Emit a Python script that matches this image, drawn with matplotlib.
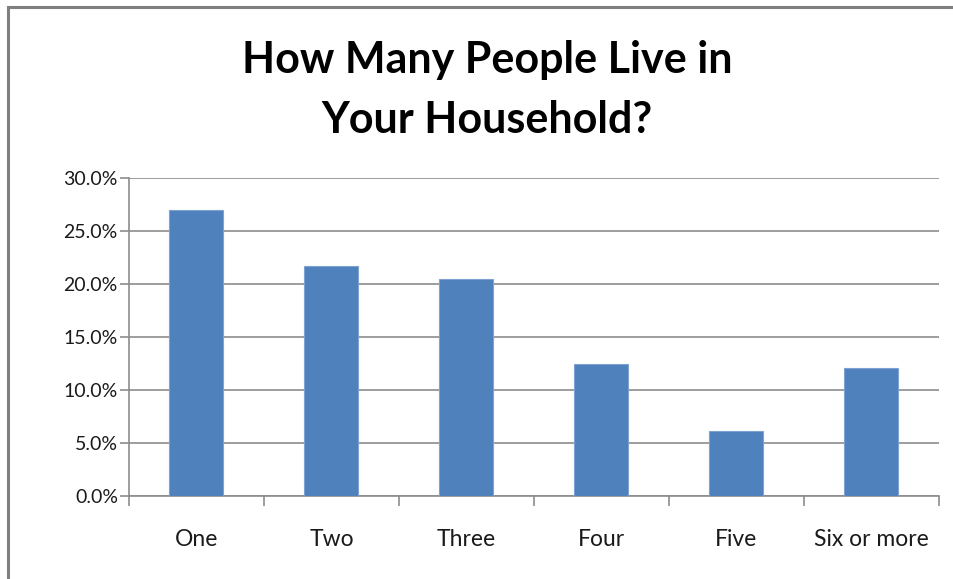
import numpy as np
import matplotlib
matplotlib.use("Agg")
import matplotlib.pyplot as plt
from matplotlib.ticker import FuncFormatter, MultipleLocator
from matplotlib.patches import Rectangle

# ── Data ──────────────────────────────────────────────────────────────────────
categories = ["One", "Two", "Three", "Four", "Five", "Six or more"]
shares     = [27.0, 21.7, 20.5, 12.5, 6.1, 12.1]   # percent of households
title      = "How Many People Live in\nYour Household?"

BAR_COLOR  = "#4f81bd"
GRID_COLOR = "#8c8c8c"
TEXT_COLOR = "#1a1a1a"

plt.rcParams["font.family"] = ["Lato", "DejaVu Sans"]

fig = plt.figure(figsize=(9.54, 5.79), dpi=100)
W, H = 954, 579
ax = fig.add_axes([129 / W, 1 - 496 / H, (939 - 129) / W, (496 - 178) / H])

x = np.arange(len(categories))
ax.bar(x, shares, width=0.4, color=BAR_COLOR, edgecolor="#7ea3d3", linewidth=0.8, zorder=3)

ax.set_xlim(-0.5, len(categories) - 0.5)
ax.set_ylim(0, 30)
ax.yaxis.set_major_locator(MultipleLocator(5))
ax.yaxis.set_major_formatter(FuncFormatter(lambda v, _: f"{v:.1f}%"))
ax.grid(axis="y", color=GRID_COLOR, linewidth=1.2, zorder=0)

# category labels centred, tick marks between categories
ax.set_xticks(x)
ax.set_xticklabels(categories)
ax.set_xticks(np.arange(-0.5, len(categories)), minor=True)
ax.tick_params(axis="x", which="major", length=0, pad=24, labelsize=16.5, colors=TEXT_COLOR)
ax.tick_params(axis="x", which="minor", length=7, width=1.2, color=GRID_COLOR)
ax.tick_params(axis="y", length=6.5, width=1.2, color=GRID_COLOR, pad=1.5,
               labelsize=14, labelcolor=TEXT_COLOR)

for side in ["top", "right"]:
    ax.spines[side].set_visible(False)
for side in ["left", "bottom"]:
    ax.spines[side].set_color(GRID_COLOR)
    ax.spines[side].set_linewidth(1.2)

fig.text(487 / W, 1 - 90 / H, title, ha="center", va="center",
         fontsize=31, fontweight="bold", color="black", linespacing=1.6)

# outer chart frame (runs off the right and bottom edges)
fig.patches.append(Rectangle((8 / W, -0.05), 1.1, 1 - 7 / H + 0.05,
                             transform=fig.transFigure, fill=False,
                             edgecolor="#808080", linewidth=2.2))

fig.savefig("out.png", dpi=100)
